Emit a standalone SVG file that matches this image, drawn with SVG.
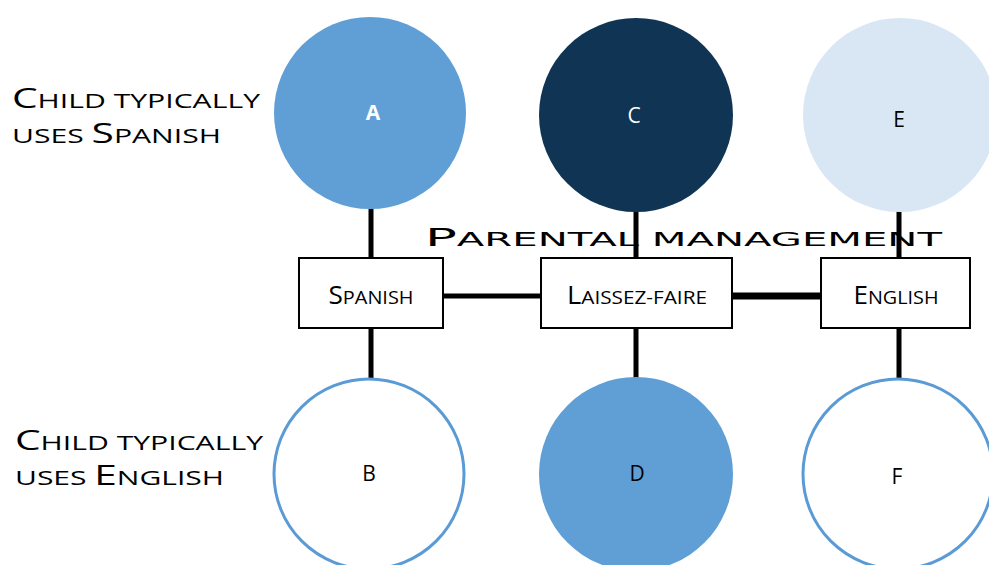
<svg xmlns="http://www.w3.org/2000/svg" width="989" height="565" viewBox="0 0 989 565">
  <style>
    .lbl { font-family: "Open Sans", "Liberation Sans", sans-serif; fill: #000; }
    .big { font-size: 27px; }
    .sm { font-size: 20px; }
    .node-txt { font-family: "Open Sans", "Liberation Sans", sans-serif; font-size: 21px; text-anchor: middle; }
    .box { fill: #fff; stroke: #000; stroke-width: 2; }
    .box-txt { font-family: "Open Sans", "Liberation Sans", sans-serif; text-anchor: middle; fill: #000; }
    .bx-big { font-size: 25px; }
    .bx-sm { font-size: 19px; }
    .link { stroke: #000; stroke-width: 5; fill: none; }
    .title { font-family: "DejaVu Sans", "Liberation Sans", sans-serif; fill: #000; }
  </style>
  <rect width="989" height="565" fill="#fff"/>

  <!-- row labels -->
  <g id="label-spanish">
    <text class="lbl" x="12" y="108" textLength="248" lengthAdjust="spacingAndGlyphs"><tspan class="big">C</tspan><tspan class="sm">HILD TYPICALLY</tspan></text>
    <text class="lbl" x="12" y="143" textLength="209" lengthAdjust="spacingAndGlyphs"><tspan class="sm">USES </tspan><tspan class="big">S</tspan><tspan class="sm">PANISH</tspan></text>
  </g>
  <g id="label-english">
    <text class="lbl" x="15" y="450" textLength="248" lengthAdjust="spacingAndGlyphs"><tspan class="big">C</tspan><tspan class="sm">HILD TYPICALLY</tspan></text>
    <text class="lbl" x="15" y="485" textLength="209" lengthAdjust="spacingAndGlyphs"><tspan class="sm">USES </tspan><tspan class="big">E</tspan><tspan class="sm">NGLISH</tspan></text>
  </g>

  <!-- axis title (connectors pass over it) -->
  <g id="title">
    <text class="title" x="425" y="246" textLength="517" lengthAdjust="spacingAndGlyphs"><tspan font-size="25">P</tspan><tspan font-size="19">ARENTAL MANAGEMENT</tspan></text>
  </g>

  <!-- connectors -->
  <g id="connectors">
    <line class="link" x1="371" y1="205" x2="371" y2="258"/>
    <line class="link" x1="371" y1="328" x2="371" y2="380"/>
    <line class="link" x1="636" y1="205" x2="636" y2="258"/>
    <line class="link" x1="636" y1="328" x2="636" y2="380"/>
    <line class="link" x1="899" y1="208" x2="899" y2="258"/>
    <line class="link" x1="899" y1="328" x2="899" y2="380"/>
    <line class="link" x1="443" y1="296" x2="541" y2="296"/>
    <line class="link" x1="732" y1="296" x2="821" y2="296" style="stroke-width:7"/>
  </g>

  <!-- top row circles -->
  <g id="node-A">
    <circle cx="370" cy="113" r="96" fill="#5f9fd6"/>
    <text class="node-txt" x="373" y="120" fill="#fff" font-weight="bold">A</text>
  </g>
  <g id="node-C">
    <circle cx="636" cy="115" r="97" fill="#0f3454"/>
    <text class="node-txt" x="634" y="123" fill="#fff">C</text>
  </g>
  <g id="node-E">
    <circle cx="900" cy="115" r="97" fill="#d9e7f5"/>
    <text class="node-txt" x="899" y="127" fill="#000">E</text>
  </g>

  <!-- bottom row circles -->
  <g id="node-B">
    <circle cx="369" cy="474" r="95" fill="#fff" stroke="#5b9bd5" stroke-width="3"/>
    <text class="node-txt" x="369" y="481" fill="#000">B</text>
  </g>
  <g id="node-D">
    <circle cx="636" cy="474" r="97" fill="#5f9fd6"/>
    <text class="node-txt" x="637" y="481" fill="#000">D</text>
  </g>
  <g id="node-F">
    <circle cx="898" cy="474" r="95" fill="#fff" stroke="#5b9bd5" stroke-width="3"/>
    <text class="node-txt" x="897" y="484" fill="#000">F</text>
  </g>

  <!-- management style boxes -->
  <g id="box-spanish">
    <rect class="box" x="299" y="258" width="144" height="70"/>
    <text class="box-txt" x="371" y="304" textLength="85" lengthAdjust="spacingAndGlyphs"><tspan class="bx-big">S</tspan><tspan class="bx-sm">PANISH</tspan></text>
  </g>
  <g id="box-laissez">
    <rect class="box" x="541" y="258" width="191" height="70"/>
    <text class="box-txt" x="637" y="304" textLength="140" lengthAdjust="spacingAndGlyphs"><tspan class="bx-big">L</tspan><tspan class="bx-sm">AISSEZ-FAIRE</tspan></text>
  </g>
  <g id="box-english">
    <rect class="box" x="821" y="258" width="149" height="70"/>
    <text class="box-txt" x="896" y="304" textLength="85" lengthAdjust="spacingAndGlyphs"><tspan class="bx-big">E</tspan><tspan class="bx-sm">NGLISH</tspan></text>
  </g>
</svg>
